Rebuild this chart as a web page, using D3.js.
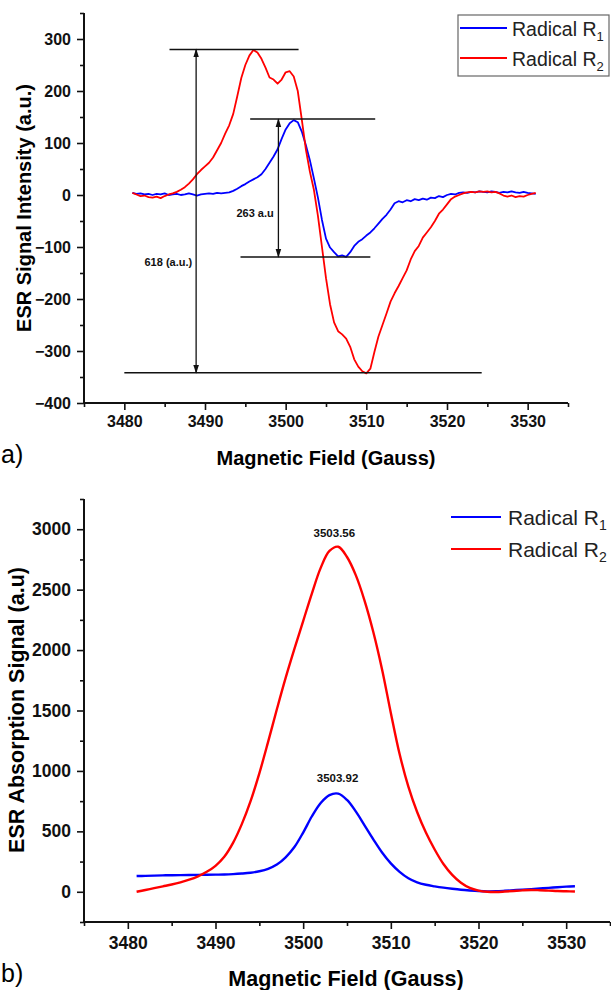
<!DOCTYPE html>
<html>
<head>
<meta charset="utf-8">
<script src="https://cdn.jsdelivr.net/npm/d3@7"></script>
<style>
  body { margin: 0; background: #fff; }
  svg { display: block; }
  text { font-family: "Liberation Sans", Arial, sans-serif; }
</style>
</head>
<body>
<div id="chart"></div>
<script>
// ---- data ----
// a) first-derivative ESR spectra, sampled every 0.5 G from 3481 to 3531
const fieldTop = d3.range(3481, 3531.001, 0.5);
const r1Deriv = [4, 2, 3, 1, 2, 0, 2, 1, 3, 0, 1, 2, 0, 1, 3, 1, -1, 1, 2, 3,
  2, 4, 3, 4, 5, 8, 12, 17, 21, 26, 30, 34, 40, 50, 62, 74, 88, 108, 126, 138,
  144, 140, 122, 96, 67, 32, -5, -48, -84, -101, -110, -118, -116, -119, -110, -98, -90, -85, -78, -72,
  -64, -55, -46, -38, -28, -16, -12, -14, -10, -12, -8, -10, -7, -9, -5, -6, -2, -4, 0, 2,
  1, 4, 5, 4, 6, 5, 7, 6, 5, 7, 6, 4, 6, 5, 7, 5, 4, 6, 4, 3, 2];
const r2Deriv = [4, 1, -2, -1, -4, -5, -3, -6, -2, 1, 3, 6, 10, 15, 22, 30, 40, 48, 55, 62,
  72, 86, 100, 118, 134, 156, 190, 225, 250, 268, 279, 274, 262, 245, 226, 222, 214, 222, 236, 238,
  228, 200, 145, 88, 45, 10, -40, -100, -160, -210, -245, -262, -268, -276, -292, -316, -330, -339, -343, -334,
  -302, -272, -250, -228, -205, -189, -175, -160, -145, -124, -108, -98, -82, -72, -62, -50, -36, -28, -18, -8,
  -3, 0, 3, 5, 6, 5, 7, 6, 7, 5, 6, 3, -1, -3, -1, -4, -2, -3, 0, 2, 4];

// b) absorption spectra, sampled every 1 G from 3481 to 3531
const fieldAbs = d3.range(3481, 3531.001, 1);
const r1Abs = [130, 132, 134, 136, 137, 138, 139, 140, 141, 142, 143, 146, 151, 158, 170, 190, 225, 285, 370, 490,
  625, 735, 800, 812, 760, 665, 550, 434, 325, 235, 165, 112, 78, 58, 45, 34, 25, 17, 11, 6,
  3, 4, 8, 13, 18, 22, 27, 32, 38, 43, 46];
const r2Abs = [0, 15, 30, 45, 60, 78, 100, 128, 165, 215, 290, 405, 560, 750, 980, 1240, 1510, 1770, 2010, 2240,
  2470, 2680, 2820, 2855, 2770, 2620, 2410, 2150, 1840, 1480, 1140, 870, 660, 490, 350, 230, 140, 75, 32, 10,
  0, -2, 2, 7, 12, 15, 13, 10, 6, 4, 2];

const seriesNames = ["Radical R", "Radical R"];
const seriesSubs = ["1", "2"];
const seriesColors = ["#0000ff", "#ff0000"];

const fieldTicks = [3480, 3490, 3500, 3510, 3520, 3530];
const fieldMinor = [3475, 3485, 3495, 3505, 3515, 3525, 3535];
const derivTicks = [-400, -300, -200, -100, 0, 100, 200, 300];
const derivMinor = [-350, -250, -150, -50, 50, 150, 250, 350];
const absTicks = [0, 500, 1000, 1500, 2000, 2500, 3000];
const absMinor = [-250, 250, 750, 1250, 1750, 2250, 2750, 3250];

// peak-to-peak markers in panel a)
const spanLines = [
  { from: 3485.6, to: 3501.6, value: 280 },
  { from: 3480.0, to: 3524.3, value: -342 },
  { from: 3495.6, to: 3511.1, value: 146 },
  { from: 3494.4, to: 3510.5, value: -119 }
];
const spanArrows = [
  { field: 3488.9, top: 280, bottom: -342, label: "618 (a.u.)", labelField: 3482.5, labelValue: -137 },
  { field: 3499.1, top: 146, bottom: -119, label: "263 a.u", labelField: 3493.9, labelValue: -42 }
];
// peak positions in panel b)
const peakLabels = [
  { text: "3503.56", field: 3503.56, value: 2936 },
  { text: "3503.92", field: 3503.92, value: 912 }
];

const W = 611, H = 990;
const svg = d3.select("#chart").append("svg")
    .attr("width", W)
    .attr("height", H);

svg.append("defs").append("marker")
    .attr("id", "arrow")
    .attr("viewBox", "0 -4 10 8")
    .attr("refX", 9)
    .attr("refY", 0)
    .attr("markerUnits", "userSpaceOnUse")
    .attr("markerWidth", 9)
    .attr("markerHeight", 7)
    .attr("orient", "auto-start-reverse")
  .append("path")
    .attr("d", "M0,-3.2L10,0L0,3.2Z")
    .attr("fill", "#111");

// draw one panel: axes, ticks, titles, curves
function drawPanel(opt) {
    const x = d3.scaleLinear().domain(opt.xDomain).range([opt.left, opt.right]);
    const y = d3.scaleLinear().domain(opt.yDomain).range([opt.bottom, opt.top]);
    const g = svg.append("g");

    // minor ticks first
    g.append("g")
        .attr("transform", `translate(0,${opt.bottom})`)
        .call(d3.axisBottom(x).tickValues(fieldMinor).tickSize(4).tickFormat(""))
        .call(a => a.select(".domain").remove());
    g.append("g")
        .attr("transform", `translate(${opt.left},0)`)
        .call(d3.axisLeft(y).tickValues(opt.yMinor).tickSize(4).tickFormat(""))
        .call(a => a.select(".domain").remove());

    const xAxis = g.append("g")
        .attr("transform", `translate(0,${opt.bottom})`)
        .call(d3.axisBottom(x).tickValues(fieldTicks).tickSize(7).tickPadding(opt.xPad).tickFormat(d3.format("d")));
    const yAxis = g.append("g")
        .attr("transform", `translate(${opt.left},0)`)
        .call(d3.axisLeft(y).tickValues(opt.yTicks).tickSize(7).tickPadding(6).tickFormat(d3.format("d")));

    [xAxis, yAxis].forEach(a => {
        a.selectAll("text")
            .style("font-size", opt.tickFont + "px")
            .style("font-weight", "bold")
            .attr("fill", "#111");
    });
    g.selectAll(".tick line").attr("stroke", "#111").attr("stroke-width", 1.6);
    g.selectAll(".domain").attr("stroke", "#111").attr("stroke-width", 2);
    // plain L-shaped axes, no end caps
    xAxis.select(".domain").attr("d", `M${opt.left},0H${opt.right}`);
    yAxis.select(".domain").attr("d", `M0,${opt.top}V${opt.bottom}`);

    g.append("text")
        .attr("x", opt.xTitle[0])
        .attr("y", opt.xTitle[1])
        .attr("text-anchor", "middle")
        .style("font-size", opt.titleFont + "px")
        .style("font-weight", "bold")
        .text("Magnetic Field (Gauss)");

    g.append("text")
        .attr("transform", `translate(${opt.yTitle[0]},${opt.yTitle[1]}) rotate(-90)`)
        .attr("text-anchor", "middle")
        .style("font-size", opt.titleFont + "px")
        .style("font-weight", "bold")
        .text(opt.yLabel);

    g.append("text")
        .attr("x", 1)
        .attr("y", opt.tag[1])
        .style("font-size", "25px")
        .text(opt.tag[0]);

    const line = d3.line()
        .x(d => x(d[0]))
        .y(d => y(d[1]))
        .curve(opt.curve);

    opt.series.forEach((vals, i) => {
        g.append("path")
            .datum(opt.fields.map((f, j) => [f, vals[j]]))
            .attr("fill", "none")
            .attr("stroke", seriesColors[i])
            .attr("stroke-width", opt.lineWidth)
            .attr("stroke-linejoin", "round")
            .attr("d", line);
    });

    return { x, y, g };
}

// ---- panel a) ----
const pa = drawPanel({
    left: 84, right: 568, top: 13, bottom: 403,
    xDomain: [3475, 3535], yDomain: [-400, 350],
    yTicks: derivTicks, yMinor: derivMinor,
    xPad: 6, tickFont: 16, titleFont: 20,
    xTitle: [326, 465], yTitle: [31, 208],
    yLabel: "ESR Signal Intensity (a.u.)",
    tag: ["a)", 463],
    fields: fieldTop, series: [r1Deriv, r2Deriv],
    curve: d3.curveLinear, lineWidth: 1.8
});

pa.g.selectAll(".span-line")
    .data(spanLines)
    .join("line")
    .attr("x1", d => pa.x(d.from))
    .attr("x2", d => pa.x(d.to))
    .attr("y1", d => pa.y(d.value))
    .attr("y2", d => pa.y(d.value))
    .attr("stroke", "#111")
    .attr("stroke-width", 1.5);

pa.g.selectAll(".span-arrow")
    .data(spanArrows)
    .join("line")
    .attr("x1", d => pa.x(d.field))
    .attr("x2", d => pa.x(d.field))
    .attr("y1", d => pa.y(d.top))
    .attr("y2", d => pa.y(d.bottom))
    .attr("stroke", "#111")
    .attr("stroke-width", 1.3)
    .attr("marker-start", "url(#arrow)")
    .attr("marker-end", "url(#arrow)");

pa.g.selectAll(".span-label")
    .data(spanArrows)
    .join("text")
    .attr("x", d => pa.x(d.labelField))
    .attr("y", d => pa.y(d.labelValue))
    .style("font-size", "11px")
    .style("font-weight", "bold")
    .attr("fill", "#111")
    .text(d => d.label);

// legend a) with frame
const legA = pa.g.append("g");
legA.append("rect")
    .attr("x", 458).attr("y", 15)
    .attr("width", 151).attr("height", 61)
    .attr("fill", "#fff")
    .attr("stroke", "#666")
    .attr("stroke-width", 1.2);
seriesNames.forEach((name, i) => {
    const cy = 28 + i * 30;
    legA.append("line")
        .attr("x1", 460).attr("x2", 507)
        .attr("y1", cy).attr("y2", cy)
        .attr("stroke", seriesColors[i])
        .attr("stroke-width", 2);
    const t = legA.append("text")
        .attr("x", 512).attr("y", cy + 8)
        .style("font-size", "19.5px")
        .attr("fill", "#222")
        .text(name);
    t.append("tspan")
        .attr("dy", 5)
        .style("font-size", "13px")
        .text(seriesSubs[i]);
});

// ---- panel b) ----
const pb = drawPanel({
    left: 84, right: 610, top: 499, bottom: 922,
    xDomain: [3475, 3535], yDomain: [-250, 3250],
    yTicks: absTicks, yMinor: absMinor,
    xPad: 8, tickFont: 17.5, titleFont: 21.5,
    xTitle: [346, 986], yTitle: [24, 710],
    yLabel: "ESR Absorption Signal (a.u)",
    tag: ["b)", 982],
    fields: fieldAbs, series: [r1Abs, r2Abs],
    curve: d3.curveCatmullRom, lineWidth: 2.4
});

pb.g.selectAll(".peak-label")
    .data(peakLabels)
    .join("text")
    .attr("x", d => pb.x(d.field))
    .attr("y", d => pb.y(d.value))
    .attr("text-anchor", "middle")
    .style("font-size", "11.5px")
    .style("font-weight", "bold")
    .attr("fill", "#111")
    .text(d => d.text);

// legend b) without frame
seriesNames.forEach((name, i) => {
    const cy = 517 + i * 32;
    pb.g.append("line")
        .attr("x1", 451).attr("x2", 501)
        .attr("y1", cy).attr("y2", cy)
        .attr("stroke", seriesColors[i])
        .attr("stroke-width", 2.2);
    const t = pb.g.append("text")
        .attr("x", 508).attr("y", cy + 8)
        .style("font-size", "21px")
        .attr("fill", "#222")
        .text(name);
    t.append("tspan")
        .attr("dy", 5)
        .style("font-size", "14px")
        .text(seriesSubs[i]);
});
</script>
</body>
</html>
